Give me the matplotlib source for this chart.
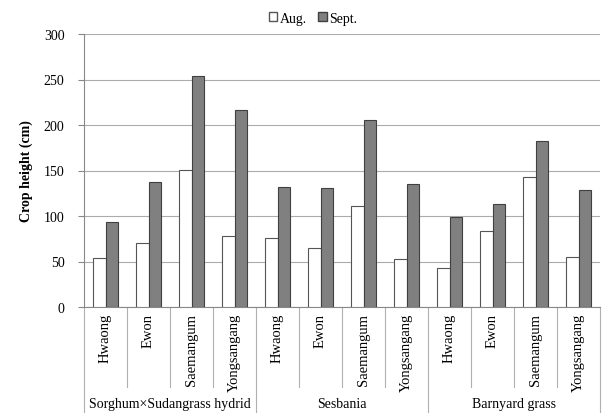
import matplotlib.pyplot as plt
import numpy as np
from matplotlib.patches import Patch
from matplotlib.transforms import blended_transform_factory

plt.rcParams['font.family'] = ['Liberation Serif', 'DejaVu Serif']

groups = ['Sorghum\u00d7Sudangrass hydrid', 'Sesbania', 'Barnyard grass']
sites = ['Hwaong', 'Ewon', 'Saemangum', 'Yongsangang']
aug = [54, 70, 151, 78, 76, 65, 111, 53, 43, 83, 143, 55]
sept = [93, 137, 254, 216, 132, 131, 205, 135, 99, 113, 182, 129]

fig = plt.figure(figsize=(6.08, 4.14), dpi=100)
ax = fig.add_axes([84/608, 1-308/414, 516/608, 273/414])

n = len(aug)
x = np.arange(n)
w = 0.29
ax.bar(x - w/2, aug, w, color='white', edgecolor='#555555', linewidth=0.8, zorder=3)
ax.bar(x + w/2, sept, w, color='#808080', edgecolor='#404040', linewidth=0.8, zorder=3)

ax.set_xlim(-0.5, n - 0.5)
ax.set_ylim(0, 300)
ax.set_yticks(range(0, 301, 50))
ax.yaxis.grid(True, color='#ababab', linewidth=0.8, zorder=0)
ax.set_xticks([])
for s in ['top', 'right']:
    ax.spines[s].set_visible(False)
for s in ['left', 'bottom']:
    ax.spines[s].set_color('#888888')
ax.tick_params(axis='y', length=4, color='#888888', labelsize=10, pad=10)
ax.set_ylabel('Crop height (cm)', fontsize=10, fontweight='bold', labelpad=8)

tr = blended_transform_factory(ax.transData, ax.transAxes)
for i in range(n + 1):
    xb = i - 0.5
    bottom = -0.388 if i % 4 == 0 else -0.293
    ax.plot([xb, xb], [0, bottom], transform=tr, color='#b0b0b0',
            linewidth=0.8, clip_on=False)
for i in range(n):
    ax.text(i, -0.022, sites[i % 4], transform=tr, rotation=90,
            ha='center', va='top', fontsize=10.5)
for g, name in enumerate(groups):
    ax.text(g * 4 + 1.5, -0.352, name, transform=tr, ha='center',
            va='center', fontsize=10)

handles = [Patch(facecolor='white', edgecolor='#555555', label='Aug.'),
           Patch(facecolor='#808080', edgecolor='#404040', label='Sept.')]
fig.legend(handles=handles, loc='upper center', bbox_to_anchor=(0.515, 1.0),
           ncol=2, frameon=False, fontsize=10, handlelength=0.6,
           handleheight=0.6, handletextpad=0.2, columnspacing=0.8)

fig.savefig('out.png', dpi=100)
